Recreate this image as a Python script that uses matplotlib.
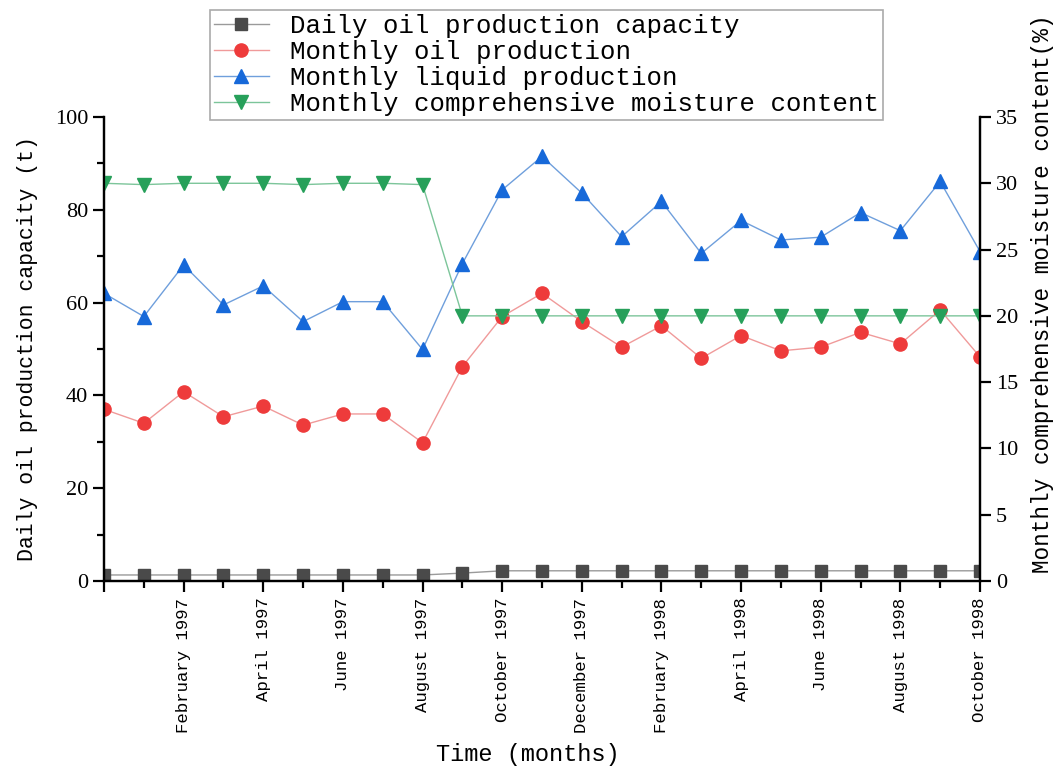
import numpy as np
import matplotlib
matplotlib.use("Agg")
import matplotlib.pyplot as plt
from matplotlib.ticker import MultipleLocator, FixedLocator

# months from December 1996 to October 1998
months = ["December 1996", "January 1997", "February 1997", "March 1997", "April 1997",
          "May 1997", "June 1997", "July 1997", "August 1997", "September 1997",
          "October 1997", "November 1997", "December 1997", "January 1998",
          "February 1998", "March 1998", "April 1998", "May 1998", "June 1998",
          "July 1998", "August 1998", "September 1998", "October 1998"]

daily_capacity = [1.3, 1.3, 1.3, 1.3, 1.3, 1.3, 1.3, 1.3, 1.3, 1.7, 2.2, 2.2, 2.2,
                  2.2, 2.2, 2.2, 2.2, 2.2, 2.2, 2.2, 2.2, 2.2, 2.2]
monthly_oil = [37.0, 34.0, 40.8, 35.4, 37.7, 33.6, 36.0, 36.0, 29.8, 46.2, 57.0, 62.0,
               55.9, 50.4, 55.0, 48.0, 52.9, 49.6, 50.4, 53.6, 51.1, 58.4, 48.3]
monthly_liquid = [62.0, 57.0, 68.1, 59.5, 63.6, 55.9, 60.2, 60.2, 49.9, 68.4, 84.3, 91.5,
                  83.6, 74.2, 81.8, 70.6, 77.7, 73.5, 74.1, 79.4, 75.5, 86.1, 71.0]
moisture = [30.0, 29.9, 30.0, 30.0, 30.0, 29.9, 30.0, 30.0, 29.9, 20.0, 20.0, 20.0,
            20.0, 20.0, 20.0, 20.0, 20.0, 20.0, 20.0, 20.0, 20.0, 20.0, 20.0]

MONO = ["Liberation Mono", "DejaVu Sans Mono"]
SERIF = ["Liberation Serif", "DejaVu Serif"]

x = np.arange(len(months))

fig = plt.figure(figsize=(10.57, 7.69), dpi=100)
ax = fig.add_axes([104/1057, 1-581/769, (980-104)/1057, (581-117)/769])
ax2 = ax.twinx()

l1, = ax.plot(x, daily_capacity, color="#9a9a9a", lw=1.0, marker="s", ms=9,
              mfc="#4a4a4a", mec="#4a4a4a", label="Daily oil production capacity")
l2, = ax.plot(x, monthly_oil, color="#f09a9a", lw=1.0, marker="o", ms=9.5,
              mfc="#ee3b3b", mec="#ee3b3b", label="Monthly oil production")
l3, = ax.plot(x, monthly_liquid, color="#6f9fdc", lw=1.0, marker="^", ms=10.5,
              mfc="#1769d9", mec="#1769d9", label="Monthly liquid production")
l4, = ax2.plot(x, moisture, color="#7cc59a", lw=1.0, marker="v", ms=10.5,
               mfc="#27a05a", mec="#27a05a", label="Monthly comprehensive moisture content")

ax.set_xlim(0, len(months) - 1)
ax.set_ylim(0, 100)
ax2.set_ylim(0, 35)

ax.yaxis.set_major_locator(MultipleLocator(20))
ax.yaxis.set_minor_locator(MultipleLocator(10))
ax2.yaxis.set_major_locator(MultipleLocator(5))

major_idx = list(range(0, len(months), 2))
ax.xaxis.set_major_locator(FixedLocator(major_idx))
ax.xaxis.set_minor_locator(FixedLocator(list(range(1, len(months), 2))))
ax.set_xticklabels(["" if i == 0 else months[i] for i in major_idx],
                   rotation=90, family=MONO, fontsize=12.5)

for a in (ax, ax2):
    for s in a.spines.values():
        s.set_linewidth(1.6)
    a.spines["top"].set_visible(False)
ax.tick_params(axis="both", which="major", direction="out", length=8, width=1.6)
ax.tick_params(axis="both", which="minor", direction="out", length=5, width=1.6)
ax2.tick_params(axis="y", which="major", direction="out", length=8, width=1.6)
ax.tick_params(axis="x", pad=4)

for t in ax.get_yticklabels() + ax2.get_yticklabels():
    t.set_family(SERIF)
    t.set_fontsize(16)

ax.set_ylabel("Daily oil production capacity (t)", family=MONO, fontsize=15.5)
ax.yaxis.set_label_coords(-0.075, 0.5)
ax2.set_ylabel("Monthly comprehensive moisture content(%)", family=MONO, fontsize=16.3)
ax2.yaxis.set_label_coords(1.058, 0.62)
fig.text(528/1057, 1-755/769, "Time (months)", family=MONO, fontsize=17,
         ha="center", va="center")

leg = fig.legend(handles=[l1, l2, l3, l4], loc="upper left",
                 bbox_to_anchor=(210/1057, 1-10/769), borderaxespad=0,
                 prop={"family": MONO, "size": 18.5}, labelspacing=0.08,
                 handlelength=2.15, handletextpad=0.8, borderpad=0.15,
                 fancybox=False, framealpha=1, edgecolor="#aaaaaa")
leg.get_frame().set_linewidth(1.2)

fig.savefig("out.png", dpi=100)
